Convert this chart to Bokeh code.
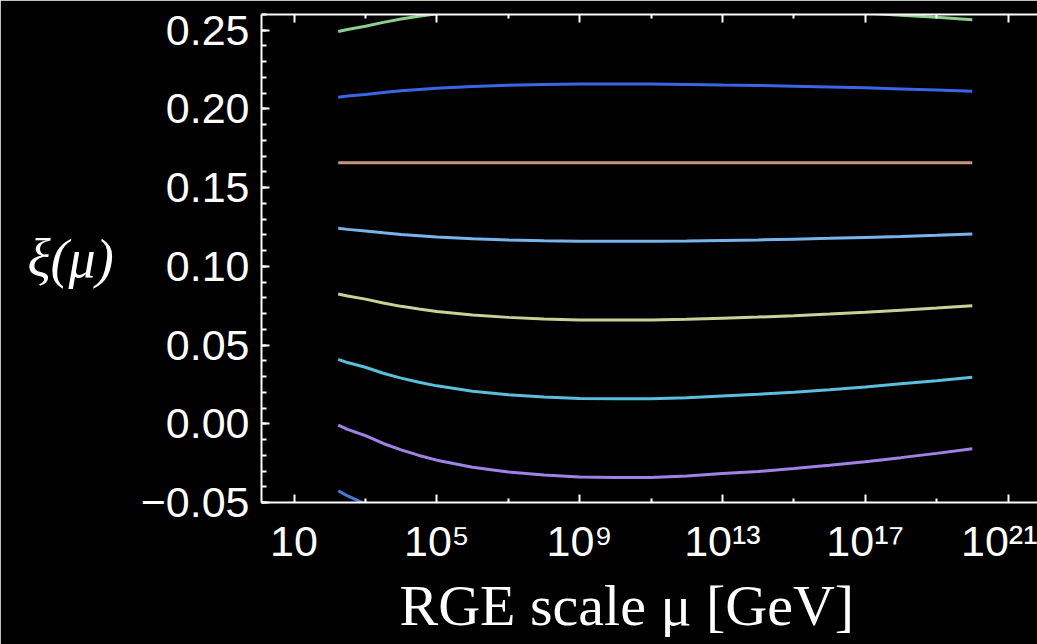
from bokeh.plotting import figure
from bokeh.models import Range1d, FixedTicker, LogAxis, Title
from bokeh.embed import file_html
from bokeh.resources import INLINE

# RGE scale (GeV): from the top mass up to 10^20 GeV
mu = [173, 316, 1e3, 3162, 1e4, 31623, 1e5, 1e6, 1e7, 1e8, 1e9, 1e10, 1e11, 1e12,
      1e13, 1e14, 1e15, 1e16, 1e17, 1e18, 1e19, 1e20]

# running non-minimal coupling xi(mu) for eight starting values
xi_a = [0.2492, 0.2505, 0.2525, 0.2550, 0.2571, 0.2589, 0.2604, 0.2626, 0.2641, 0.2651, 0.2657,
        0.2659, 0.2659, 0.2654, 0.2646, 0.2640, 0.2630, 0.2620, 0.2609, 0.2595, 0.2582, 0.2567]
xi_b = [0.2075, 0.2082, 0.2092, 0.2105, 0.2115, 0.2124, 0.2131, 0.2142, 0.2150, 0.2155, 0.2158,
        0.2159, 0.2159, 0.2156, 0.2152, 0.2149, 0.2145, 0.2140, 0.2134, 0.2127, 0.2120, 0.2113]
xi_c = [0.1659] * 22
xi_d = [0.1242, 0.1235, 0.1225, 0.1213, 0.1202, 0.1194, 0.1186, 0.1175, 0.1167, 0.1162, 0.1159,
        0.1159, 0.1159, 0.1161, 0.1165, 0.1168, 0.1173, 0.1178, 0.1184, 0.1190, 0.1197, 0.1205]
xi_e = [0.0825, 0.0812, 0.0792, 0.0767, 0.0746, 0.0729, 0.0714, 0.0691, 0.0676, 0.0666, 0.0660,
        0.0659, 0.0659, 0.0664, 0.0671, 0.0678, 0.0687, 0.0697, 0.0709, 0.0722, 0.0735, 0.0750]
xi_f = [0.0409, 0.0389, 0.0359, 0.0321, 0.0290, 0.0264, 0.0241, 0.0207, 0.0185, 0.0170, 0.0161,
        0.0159, 0.0159, 0.0166, 0.0177, 0.0187, 0.0201, 0.0216, 0.0234, 0.0254, 0.0274, 0.0296]
xi_g = [-0.0008, -0.0035, -0.0075, -0.0125, -0.0166, -0.0201, -0.0231, -0.0276, -0.0306, -0.0326,
        -0.0338, -0.0341, -0.0341, -0.0331, -0.0316, -0.0303, -0.0284, -0.0264, -0.0241, -0.0215,
        -0.0188, -0.0158]
xi_h = [-0.0425, -0.0458, -0.0508, -0.0570]

series = [xi_a, xi_b, xi_c, xi_d, xi_e, xi_f, xi_g, xi_h]
colors = ["#8ccf8c", "#3c64e6", "#c89678", "#78b4eb", "#c8d296", "#5abedc", "#a082e6", "#4678dc"]

x_ticks = [1e1, 1e5, 1e9, 1e13, 1e17, 1e21]
x_tick_labels = ["10", "10\u2075", "10\u2079", "10\u00b9\u00b3", "10\u00b9\u2077", "10\u00b2\u00b9"]
x_minor = [1e3, 1e7, 1e11, 1e15, 1e19]

y_ticks = [-0.05, 0.0, 0.05, 0.10, 0.15, 0.20, 0.25]
y_tick_labels = ["\u22120.05", "0.00", "0.05", "0.10", "0.15", "0.20", "0.25"]
y_minor = [round(-0.05 + 0.01 * i, 2) for i in range(32)]

p = figure(width=1037, height=644, x_axis_type="log",
           x_range=Range1d(10 ** 0.0896, 10 ** 21.826), y_range=Range1d(-0.05, 0.26),
           output_backend="svg", toolbar_location=None,
           min_border_left=261, min_border_right=0, min_border_top=14, min_border_bottom=142,
           background_fill_color="black", border_fill_color="black", outline_line_color=None)
p.grid.visible = False

for ys, c in zip(series, colors):
    p.line(mu[:len(ys)], ys, line_color=c, line_width=3)

tick_font = "Liberation Sans"

def style_axis(ax):
    ax.axis_line_color = "white"
    ax.axis_line_width = 2
    ax.major_tick_line_color = "white"
    ax.minor_tick_line_color = "white"
    ax.major_tick_line_width = 2
    ax.minor_tick_line_width = 2
    ax.major_tick_in = 8
    ax.major_tick_out = 0
    ax.minor_tick_in = 4
    ax.minor_tick_out = 0
    ax.major_label_text_color = "white"
    ax.major_label_text_font = tick_font
    ax.major_label_text_font_size = "43px"

xa = p.xaxis[0]
xa.ticker = FixedTicker(ticks=x_ticks, minor_ticks=x_minor)
xa.major_label_overrides = dict(zip(x_ticks, x_tick_labels))
style_axis(xa)
xa.major_label_standoff = 14

ya = p.yaxis[0]
ya.ticker = FixedTicker(ticks=y_ticks, minor_ticks=y_minor)
ya.major_label_overrides = dict(zip(y_ticks, y_tick_labels))
style_axis(ya)
ya.minor_tick_in = 5
ya.major_label_standoff = 12
ya.axis_label = "\u03be(\u03bc)"
ya.axis_label_orientation = "horizontal"
ya.axis_label_text_font = "Liberation Serif"
ya.axis_label_text_font_style = "italic"
ya.axis_label_text_font_size = "54px"
ya.axis_label_text_color = "white"
ya.axis_label_standoff = 24

top = LogAxis(ticker=FixedTicker(ticks=x_ticks, minor_ticks=x_minor))
style_axis(top)
top.major_label_overrides = {t: "" for t in x_ticks}
top.major_label_text_font_size = "0px"
top.major_label_standoff = 0
p.add_layout(top, "above")

# horizontal axis title, set a little left of the frame's centre
p.add_layout(Title(text="RGE scale \u03bc [GeV]", align="left", offset=138, standoff=6,
                   text_font="Liberation Serif", text_font_size="58px",
                   text_font_style="normal", text_color="white"), "below")

open("out.html", "w").write(file_html(p, INLINE))
